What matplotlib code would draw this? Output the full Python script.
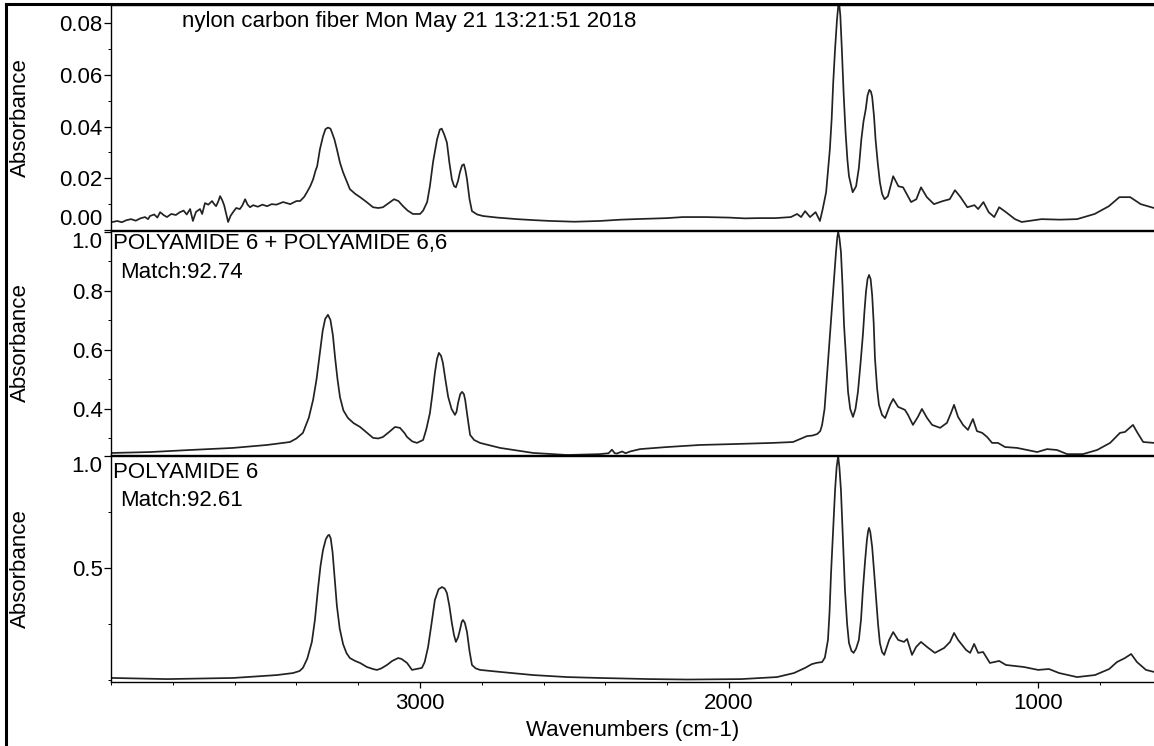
"""FTIR library search result: sample spectrum plus the two best library hits.

Three stacked absorbance panels on a shared, reversed wavenumber axis.
"""

import matplotlib
matplotlib.use("Agg")
import matplotlib.pyplot as plt
from matplotlib.lines import Line2D
from matplotlib.ticker import MultipleLocator

plt.rcParams["font.family"] = ["Liberation Sans", "DejaVu Sans"]
plt.rcParams["font.size"] = 16

LINE_COLOR = "#222222"

# ---- sample: nylon carbon fiber ----
sample_wn = [3994, 3980, 3965, 3950, 3935, 3920, 3905, 3890, 3880, 3874, 3860, 3850,
             3841, 3830, 3819, 3805, 3790, 3777, 3765, 3755, 3744, 3735, 3725, 3712,
             3705, 3696, 3685, 3673, 3666, 3660, 3653, 3647, 3640, 3634, 3627, 3621,
             3613, 3605, 3595, 3583, 3575, 3566, 3558, 3550, 3540, 3525, 3510, 3495,
             3480, 3465, 3443, 3420, 3400, 3388, 3375, 3366, 3355, 3346, 3338, 3333,
             3324, 3314, 3306, 3298, 3290, 3285, 3277, 3269, 3259, 3249, 3236, 3227,
             3210, 3194, 3175, 3152, 3135, 3120, 3100, 3084, 3070, 3055, 3040, 3023,
             3000, 2990, 2977, 2968, 2958, 2945, 2936, 2930, 2922, 2913, 2905, 2897,
             2890, 2884, 2877, 2871, 2864, 2858, 2853, 2848, 2840, 2832, 2815, 2796,
             2750, 2686, 2630, 2579, 2500, 2418, 2350, 2304, 2200, 2150, 2075, 2000,
             1950, 1903, 1850, 1800, 1780, 1767, 1754, 1738, 1720, 1706, 1697, 1686,
             1674, 1668, 1663, 1657, 1651, 1645, 1640, 1635, 1629, 1623, 1617, 1612,
             1600, 1589, 1580, 1572, 1565, 1558, 1552, 1546, 1541, 1537, 1531, 1526,
             1519, 1512, 1505, 1497, 1486, 1469, 1452, 1437, 1411, 1394, 1379, 1360,
             1337, 1308, 1286, 1269, 1251, 1229, 1206, 1194, 1177, 1160, 1142, 1126,
             1104, 1075, 1053, 989, 930, 874, 817, 771, 737, 702, 668, 625]
sample_abs = [0.0031, 0.0035, 0.0030, 0.0038, 0.0042, 0.0036, 0.0045, 0.0050, 0.0042,
              0.0054, 0.0060, 0.0048, 0.0069, 0.0058, 0.0050, 0.0062, 0.0058, 0.0069,
              0.0075, 0.0060, 0.0081, 0.0035, 0.0070, 0.0081, 0.0062, 0.0104, 0.0098,
              0.0112, 0.0100, 0.0092, 0.0110, 0.0131, 0.0115, 0.0096, 0.0060, 0.0031,
              0.0055, 0.0069, 0.0085, 0.0081, 0.0095, 0.0119, 0.0098, 0.0088, 0.0096,
              0.0090, 0.0098, 0.0092, 0.0100, 0.0098, 0.0108, 0.0100, 0.0112, 0.0112,
              0.0128, 0.0146, 0.0170, 0.0196, 0.0230, 0.0246, 0.0312, 0.0362, 0.0390,
              0.0396, 0.0392, 0.0377, 0.0350, 0.0312, 0.0260, 0.0223, 0.0185, 0.0158,
              0.0140, 0.0127, 0.0110, 0.0088, 0.0085, 0.0088, 0.0105, 0.0119, 0.0112,
              0.0092, 0.0075, 0.0062, 0.0062, 0.0075, 0.0108, 0.0170, 0.0262, 0.0350,
              0.0388, 0.0392, 0.0370, 0.0338, 0.0260, 0.0196, 0.0170, 0.0165, 0.0190,
              0.0223, 0.0250, 0.0254, 0.0230, 0.0196, 0.0120, 0.0073, 0.0060, 0.0054,
              0.0048, 0.0042, 0.0038, 0.0035, 0.0032, 0.0035, 0.0040, 0.0042, 0.0046,
              0.0050, 0.0050, 0.0048, 0.0045, 0.0046, 0.0046, 0.0050, 0.0062, 0.0050,
              0.0073, 0.0050, 0.0069, 0.0035, 0.0081, 0.0146, 0.0310, 0.0430, 0.0570,
              0.0700, 0.0810, 0.0890, 0.0830, 0.0696, 0.0520, 0.0377, 0.0270, 0.0208,
              0.0146, 0.0169, 0.0240, 0.0350, 0.0420, 0.0465, 0.0520, 0.0542, 0.0535,
              0.0515, 0.0440, 0.0350, 0.0260, 0.0185, 0.0140, 0.0119, 0.0131, 0.0208,
              0.0169, 0.0165, 0.0108, 0.0119, 0.0165, 0.0127, 0.0100, 0.0112, 0.0119,
              0.0154, 0.0127, 0.0088, 0.0096, 0.0081, 0.0108, 0.0069, 0.0050, 0.0088,
              0.0069, 0.0042, 0.0031, 0.0042, 0.0040, 0.0042, 0.0062, 0.0092, 0.0127,
              0.0127, 0.0100, 0.0085]

# ---- library hit 1: polyamide 6 + polyamide 6,6 ----
pa_blend_wn = [3994, 3874, 3744, 3605, 3495, 3421, 3400, 3379, 3360, 3346, 3335, 3324,
               3315, 3307, 3298, 3290, 3282, 3275, 3267, 3259, 3248, 3233, 3215, 3194,
               3170, 3152, 3135, 3120, 3100, 3081, 3065, 3050, 3042, 3025, 3010, 2990,
               2980, 2968, 2960, 2952, 2945, 2939, 2932, 2926, 2918, 2909, 2898, 2887,
               2882, 2877, 2870, 2864, 2858, 2854, 2846, 2838, 2825, 2806, 2741, 2634,
               2524, 2418, 2390, 2379, 2370, 2363, 2346, 2335, 2320, 2288, 2201, 2094,
               1987, 1858, 1793, 1748, 1730, 1715, 1705, 1699, 1691, 1683, 1675, 1667,
               1660, 1654, 1650, 1647, 1643, 1638, 1633, 1628, 1621, 1615, 1608, 1599,
               1591, 1583, 1575, 1567, 1562, 1557, 1552, 1547, 1542, 1537, 1532, 1528,
               1521, 1515, 1505, 1495, 1479, 1469, 1453, 1431, 1421, 1405, 1389, 1376,
               1359, 1343, 1317, 1295, 1282, 1272, 1259, 1243, 1227, 1211, 1198, 1181,
               1165, 1149, 1130, 1107, 1068, 1036, 1003, 971, 939, 906, 855, 809,
               767, 735, 719, 693, 680, 660, 625]
pa_blend_abs = [0.251, 0.254, 0.261, 0.268, 0.278, 0.288, 0.300, 0.319, 0.370, 0.431,
                0.500, 0.590, 0.665, 0.705, 0.719, 0.702, 0.650, 0.575, 0.500, 0.440,
                0.395, 0.369, 0.352, 0.339, 0.318, 0.302, 0.300, 0.305, 0.322, 0.339,
                0.336, 0.318, 0.305, 0.290, 0.285, 0.295, 0.330, 0.386, 0.450, 0.522,
                0.570, 0.590, 0.580, 0.556, 0.500, 0.441, 0.400, 0.380, 0.390, 0.420,
                0.450, 0.458, 0.450, 0.431, 0.370, 0.312, 0.295, 0.285, 0.268, 0.251,
                0.244, 0.247, 0.250, 0.262, 0.250, 0.249, 0.256, 0.250, 0.256, 0.264,
                0.271, 0.278, 0.281, 0.285, 0.288, 0.308, 0.310, 0.315, 0.325, 0.346,
                0.400, 0.515, 0.630, 0.742, 0.850, 0.932, 0.980, 1.000, 0.980, 0.932,
                0.820, 0.685, 0.560, 0.458, 0.400, 0.373, 0.400, 0.458, 0.550, 0.651,
                0.730, 0.797, 0.840, 0.854, 0.840, 0.786, 0.690, 0.573, 0.470, 0.414,
                0.380, 0.369, 0.414, 0.434, 0.407, 0.397, 0.380, 0.346, 0.373, 0.400,
                0.369, 0.346, 0.336, 0.353, 0.386, 0.414, 0.373, 0.346, 0.329, 0.366,
                0.325, 0.319, 0.305, 0.285, 0.285, 0.271, 0.268, 0.261, 0.254, 0.264,
                0.261, 0.247, 0.247, 0.261, 0.285, 0.319, 0.322, 0.346, 0.322, 0.288,
                0.285]

# ---- library hit 2: polyamide 6 ----
pa6_wn = [3994, 3819, 3605, 3463, 3411, 3390, 3379, 3365, 3350, 3340, 3330, 3322,
          3314, 3305, 3298, 3294, 3289, 3283, 3276, 3269, 3260, 3249, 3238, 3227,
          3210, 3194, 3172, 3150, 3139, 3125, 3107, 3090, 3071, 3060, 3042, 3026,
          2994, 2985, 2974, 2963, 2952, 2940, 2929, 2920, 2913, 2905, 2897, 2890,
          2884, 2877, 2871, 2865, 2861, 2855, 2848, 2840, 2832, 2820, 2806, 2741,
          2634, 2524, 2418, 2256, 2133, 1961, 1845, 1790, 1754, 1732, 1715, 1699,
          1690, 1680, 1675, 1670, 1663, 1657, 1652, 1647, 1643, 1638, 1632, 1625,
          1618, 1612, 1604, 1597, 1589, 1580, 1573, 1567, 1560, 1554, 1550, 1547,
          1543, 1537, 1530, 1524, 1518, 1512, 1505, 1498, 1482, 1469, 1453, 1434,
          1424, 1408, 1395, 1379, 1359, 1334, 1304, 1285, 1272, 1259, 1233, 1220,
          1207, 1194, 1178, 1156, 1126, 1104, 1046, 1000, 965, 932, 874, 816,
          770, 745, 719, 699, 680, 651, 625]
pa6_abs = [0.009, 0.004, 0.009, 0.022, 0.031, 0.040, 0.054, 0.095, 0.170, 0.270,
           0.410, 0.510, 0.580, 0.628, 0.645, 0.648, 0.632, 0.570, 0.450, 0.330,
           0.230, 0.160, 0.120, 0.098, 0.085, 0.076, 0.058, 0.048, 0.045, 0.052,
           0.067, 0.085, 0.098, 0.094, 0.076, 0.045, 0.054, 0.080, 0.147, 0.250,
           0.357, 0.405, 0.415, 0.408, 0.388, 0.330, 0.254, 0.200, 0.170, 0.190,
           0.223, 0.260, 0.268, 0.255, 0.214, 0.130, 0.067, 0.052, 0.045, 0.036,
           0.022, 0.013, 0.009, 0.004, 0.002, 0.004, 0.013, 0.031, 0.054, 0.071,
           0.077, 0.080, 0.100, 0.179, 0.300, 0.478, 0.680, 0.848, 0.950, 1.000,
           0.950, 0.848, 0.640, 0.402, 0.250, 0.165, 0.130, 0.121, 0.140, 0.179,
           0.270, 0.402, 0.530, 0.625, 0.665, 0.679, 0.660, 0.594, 0.470, 0.357,
           0.250, 0.165, 0.125, 0.112, 0.179, 0.214, 0.179, 0.170, 0.183, 0.112,
           0.147, 0.170, 0.147, 0.121, 0.143, 0.170, 0.210, 0.179, 0.134, 0.121,
           0.161, 0.121, 0.125, 0.076, 0.085, 0.067, 0.058, 0.045, 0.049, 0.031,
           0.013, 0.022, 0.049, 0.080, 0.098, 0.116, 0.080, 0.045, 0.036]

X_RANGE = (4000, 625)
X_TICKS = [3000, 2000, 1000]

W, H = 1154, 746
fig = plt.figure(figsize=(W / 100, H / 100), dpi=100)


def px_axes(top, bottom, left=111, right=W):
    """Axes rectangle from pixel edges of the reference layout."""
    return [left / W, 1 - bottom / H, (right - left) / W, (bottom - top) / H]


ax_top = fig.add_axes(px_axes(5, 230))
ax_mid = fig.add_axes(px_axes(231, 455), sharex=ax_top)
ax_bot = fig.add_axes(px_axes(456, 682), sharex=ax_top)

panels = [
    (ax_top, sample_wn, sample_abs, (0.0, 0.087), [0.0, 0.02, 0.04, 0.06, 0.08],
     ["0.00", "0.02", "0.04", "0.06", "0.08"], 0.01),
    (ax_mid, pa_blend_wn, pa_blend_abs, (0.244, 1.003), [0.4, 0.6, 0.8, 1.0],
     ["0.4", "0.6", "0.8", "1.0"], 0.1),
    (ax_bot, pa6_wn, pa6_abs, (-0.009, 1.0), [0.5, 1.0], ["0.5", "1.0"], 0.25),
]

for ax, wn, ab, ylim, yt, ylab, yminor in panels:
    ax.plot(wn, ab, color=LINE_COLOR, lw=1.25)
    ax.set_ylim(*ylim)
    ax.set_yticks(yt, ylab)
    ax.yaxis.set_minor_locator(MultipleLocator(yminor))
    ax.tick_params(axis="y", which="major", direction="out", length=5, width=0.9,
                   pad=1, labelsize=16)
    ax.tick_params(axis="y", which="minor", direction="out", length=2.5, width=0.7)
    ax.spines["right"].set_visible(False)
    for s in ("left", "top", "bottom"):
        ax.spines[s].set_linewidth(1.0)
    ax.set_ylabel("Absorbance", va="center", fontsize=16)
    ax.yaxis.set_label_coords((20 - 111) / (W - 111), 0.5)

ax_top.set_xlim(*X_RANGE)
ax_bot.set_xticks(X_TICKS)
ax_bot.xaxis.set_minor_locator(MultipleLocator(200))
ax_bot.tick_params(axis="x", which="major", length=4, width=0.9, pad=4, labelsize=16)
ax_bot.tick_params(axis="x", which="minor", length=2.5, width=0.7)
for ax in (ax_top, ax_mid):
    ax.tick_params(axis="x", which="both", bottom=False, labelbottom=False)
ax_bot.set_xlabel("Wavenumbers (cm-1)", fontsize=16, labelpad=4)

# edge tick labels sit inside their own panel, like the instrument software does
ax_top.get_yticklabels()[0].set_va("bottom")
ax_mid.get_yticklabels()[-1].set_va("top")
ax_bot.get_yticklabels()[-1].set_va("top")


def fig_text(x, y, s, **kw):
    fig.text(x / W, 1 - y / H, s, va="center", ha="left", fontsize=16, **kw)


fig_text(182, 21, "nylon carbon fiber Mon May 21 13:21:51 2018")
fig_text(113, 243, "POLYAMIDE 6 + POLYAMIDE 6,6")
fig_text(120, 273, "Match:92.74")
fig_text(113, 472, "POLYAMIDE 6")
fig_text(120, 500, "Match:92.61")

# frame of the screenshot (left and top edges)
fig.add_artist(Line2D([5.5 / W, 5.5 / W], [0, 1 - 4 / H], color="black", lw=2.2))
fig.add_artist(Line2D([5.5 / W, 1], [1 - 4 / H, 1 - 4 / H], color="black", lw=2.2))

fig.savefig("out.png", dpi=100)
